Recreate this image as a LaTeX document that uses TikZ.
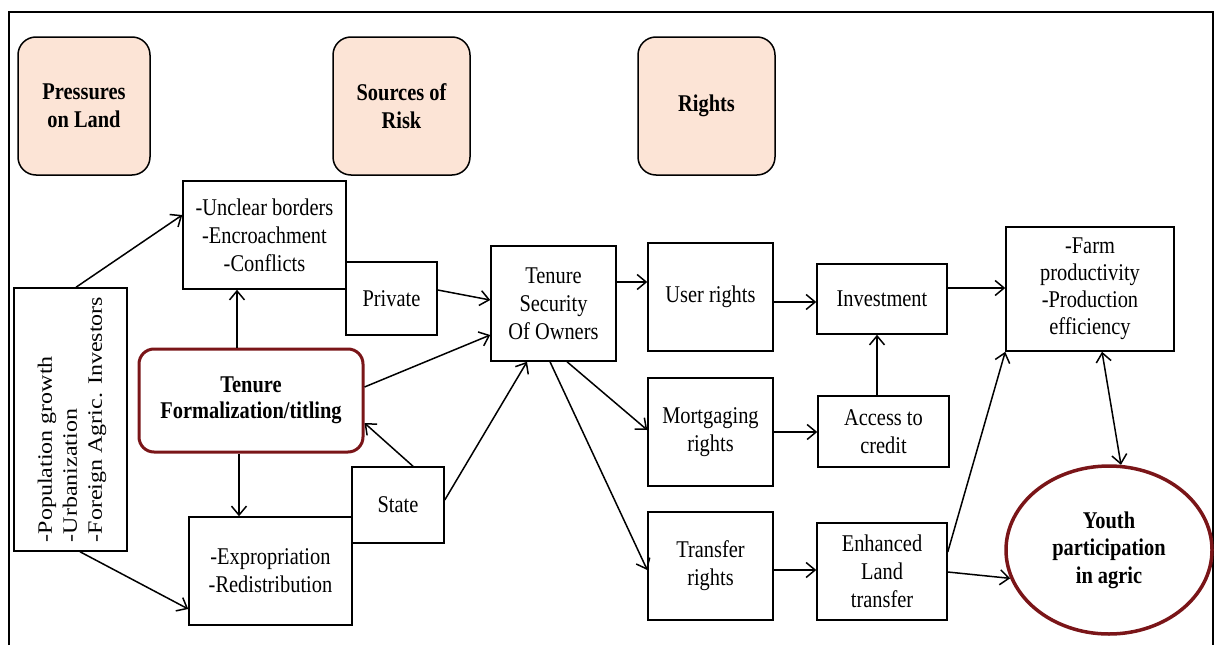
\documentclass[tikz,border=0pt]{standalone}
\usepackage{fontspec}
\setmainfont{Liberation Serif}[FakeStretch=0.85]
\newfontfamily\rotfont{Liberation Serif}
\usetikzlibrary{arrows.meta,shapes.geometric}
\definecolor{peach}{HTML}{FCE4D6}
\definecolor{darkred}{HTML}{7A1518}
\begin{document}
\begin{tikzpicture}[x=1pt,y=-1pt,
  txt/.style={font=\fontsize{24}{28}\selectfont, align=center, inner sep=0pt},
  box/.style={draw, line width=1.5pt, txt},
  headbox/.style={draw, line width=1.5pt, fill=peach, rounded corners=18pt, txt,
    font=\fontsize{24}{28}\selectfont\bfseries, minimum width=135pt, minimum height=138pt},
  arr/.style={line width=1.5pt, -{Straight Barb[length=9pt,width=15pt]}},
  ]
\useasboundingbox (0,0) rectangle (1220,645);
\draw[line width=2.2pt] (9,645) -- (9,12) -- (1213,12) -- (1213,645);

% headers
\node[headbox, minimum width=132pt] (pres) at (84,106) {Pressures\\on Land};
\node[headbox, minimum width=137pt] (src) at (401.5,106) {Sources of\\Risk};
\node[headbox, minimum width=137pt] (rights) at (706.5,106) {Rights};

% boxes
\node[box, minimum width=163pt, minimum height=108pt] (unclear) at (264.5,235) {-Unclear borders\\-Encroachment\\-Conflicts};
\node[box, minimum width=91pt, minimum height=73pt] (private) at (391.5,298.5) {Private};
\node[box, minimum width=113pt, minimum height=263pt] (pop) at (70.5,419.5) {};
\node[txt, font=\rotfont\fontsize{24}{29.5}\selectfont, align=left, rotate=90, yscale=0.85] (poptext) at ([xshift=1.5pt]pop.center) {-Population growth\\-Urbanization\\-Foreign Agric. Investors};
\node[box, draw=darkred, line width=3pt, rounded corners=15pt, minimum width=224pt, minimum height=103pt,
  font=\fontsize{24}{26}\selectfont\bfseries] (form) at (251,400.5) {Tenure\\Formalization/titling};
\node[box, minimum width=163pt, minimum height=108pt] (expr) at (270.5,571) {-Expropriation\\-Redistribution};
\node[box, minimum width=92pt, minimum height=76pt] (state) at (398,505) {State};
\node[box, minimum width=125pt, minimum height=115pt] (sec) at (553.5,303.5) {Tenure\\Security\\Of Owners};
\node[box, minimum width=125pt, minimum height=108pt] (user) at (710.5,297) {User rights};
\node[box, minimum width=125pt, minimum height=108pt] (mort) at (710.5,432) {Mortgaging\\rights};
\node[box, minimum width=125pt, minimum height=108pt] (trans) at (710.5,566) {Transfer\\rights};
\node[box, minimum width=130pt, minimum height=70pt] (inv) at (882,299) {Investment};
\node[box, minimum width=131pt, minimum height=71pt] (acc) at (883.5,431.5) {Access to\\credit};
\node[box, minimum width=130pt, minimum height=97pt] (enh) at (882,571.5) {Enhanced\\Land\\transfer};
\node[box, minimum width=168pt, minimum height=124pt, font=\fontsize{24}{27}\selectfont] (farm) at (1090,289) {-Farm\\productivity\\-Production\\efficiency};
\node[ellipse, draw=darkred, line width=3.5pt, fill=white, inner sep=0pt, minimum width=206pt, minimum height=168pt,
  txt, font=\fontsize{24}{27.5}\selectfont\bfseries] (youth) at (1109,550) {Youth\\participation\\in agric};

% connectors
\draw[arr] ([xshift=5.5pt]pop.north) -- ([yshift=20pt]unclear.west);
\draw[arr] ([xshift=9.5pt]pop.south) -- ([yshift=-38pt]expr.west);
\draw[arr] ([xshift=-14pt]form.north) -- ([xshift=-14pt]form.north |- unclear.south);
\draw[arr] ([xshift=-12pt]form.south) -- ([xshift=-12pt]form.south |- expr.north);
\draw[arr] ([xshift=15pt]state.north) -- ([yshift=-22.5pt]form.east);
\draw[arr] ([yshift=13.5pt]form.east) -- ([yshift=-31.5pt]sec.west);
\draw[arr] ([yshift=8.5pt]private.east) -- ([yshift=3.5pt]sec.west);
\draw[arr] ([yshift=5pt]state.east) -- ([xshift=-26.5pt]sec.south);
\draw[arr] ([yshift=21.5pt]sec.east) -- ([yshift=21.5pt]sec.east -| user.west);
\draw[arr] ([xshift=13.5pt]sec.south) -- ([yshift=2pt]mort.west);
\draw[arr] ([xshift=-3.5pt]sec.south) -- ([yshift=-4pt]trans.west);
\draw[arr] ([yshift=-5pt]user.east) -- ([yshift=-5pt]user.east -| inv.west);
\draw[arr] (mort.east) -- (mort.east -| acc.west);
\draw[arr] ([yshift=-4pt]trans.east) -- ([yshift=-4pt]trans.east -| enh.west);
\draw[arr] ([xshift=-6.5pt]acc.north) -- ([xshift=-6.5pt]acc.north |- inv.south);
\draw[arr] ([yshift=11pt]inv.east) -- ([yshift=11pt]inv.east -| farm.west);
\draw[arr] ([yshift=19.5pt]enh.east) -- (farm.south west);
\draw[arr] ([yshift=-0.5pt]enh.east) -- (youth.196);
\draw[arr, {Straight Barb[length=9pt,width=15pt]}-{Straight Barb[length=9pt,width=15pt]}] ([xshift=12pt]farm.south) -- (youth.82);
\end{tikzpicture}
\end{document}
